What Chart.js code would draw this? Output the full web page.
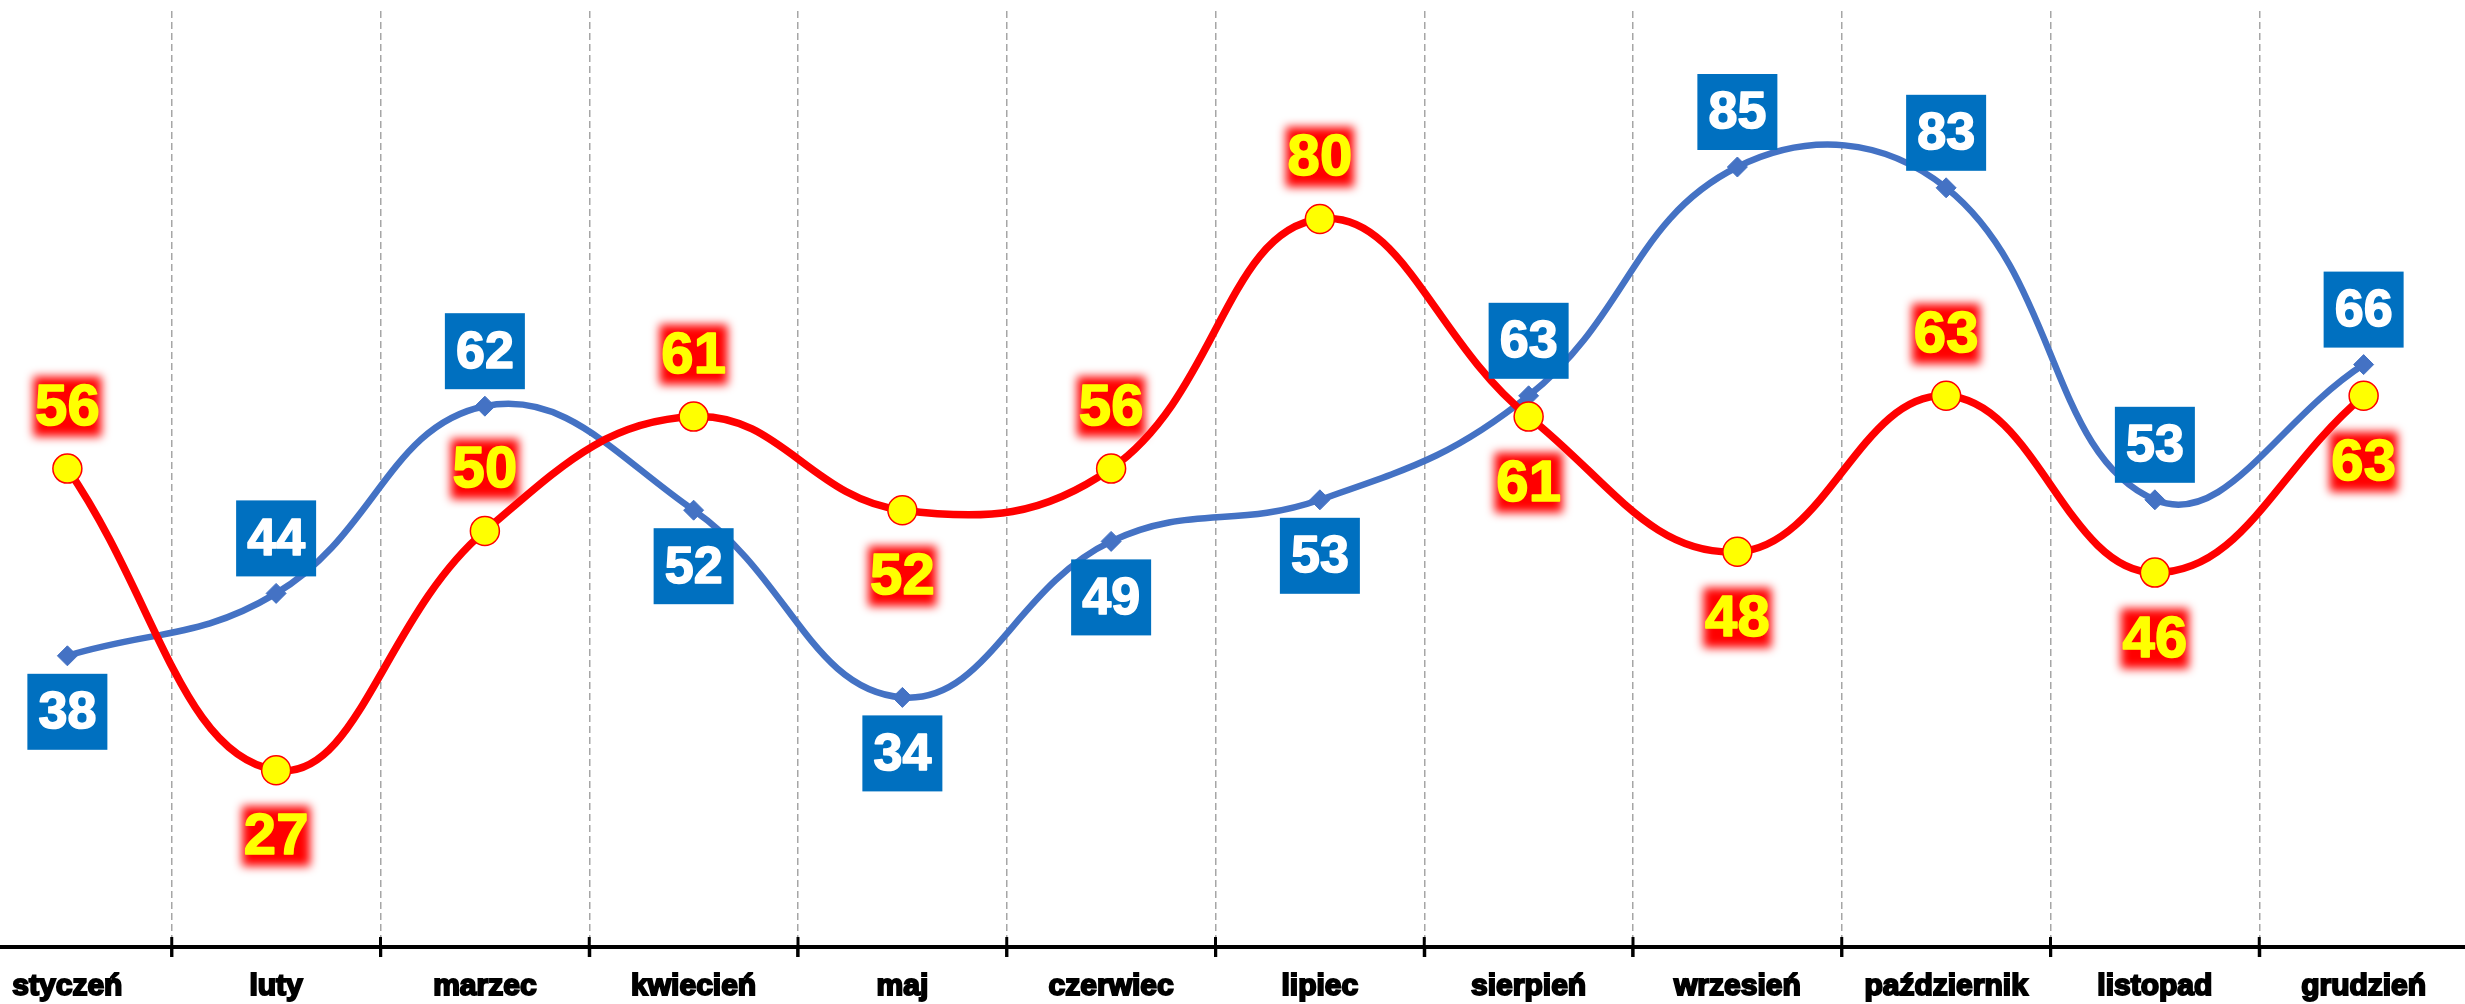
<!DOCTYPE html>
<html>
<head>
<meta charset="utf-8">
<script src="https://cdn.jsdelivr.net/npm/chart.js@4/dist/chart.umd.min.js"></script>
<style>
html,body{margin:0;padding:0;background:#fff;overflow:hidden;width:2465px;height:1004px;}
#wrap{position:absolute;left:-37px;top:0;width:2505px;height:1004px;}
</style>
</head>
<body>
<div id="wrap"><canvas id="c" width="2505" height="1004"></canvas></div>
<script>
const categories = ['styczeń','luty','marzec','kwiecień','maj','czerwiec','lipiec','sierpień','wrzesień','październik','listopad','grudzień'];
const redValues  = [56, 27, 50, 61, 52, 56, 80, 61, 48, 63, 46, 63];
const blueValues = [38, 44, 62, 52, 34, 49, 53, 63, 85, 83, 53, 66];
// label side: 1 = above point, -1 = below point
const redLabelSide  = [1, -1, 1, 1, -1, 1, 1, -1, -1, 1, -1, -1];
const blueLabelSide = [-1, 1, 1, -1, -1, -1, -1, 1, 1, 1, 1, 1];
const yMin = 10, yMax = 100;

const FONT = '"Liberation Sans", Arial, sans-serif';

const labelPlugin = {
  id: 'valueLabels',
  afterDatasetsDraw(chart) {
    const ctx = chart.ctx;
    const bMeta = chart.getDatasetMeta(1);
    bMeta.data.forEach((pt, i) => {
      const cy = pt.y + (blueLabelSide[i] > 0 ? -55 : 56);
      const cx = pt.x;
      ctx.save();
      ctx.fillStyle = '#0070C0';
      ctx.fillRect(cx - 40, cy - 38, 80, 76);
      ctx.fillStyle = '#ffffff';
      ctx.strokeStyle = '#ffffff';
      ctx.lineWidth = 1.6;
      ctx.lineJoin = 'round';
      ctx.font = 'bold 52px ' + FONT;
      ctx.textAlign = 'center';
      ctx.textBaseline = 'middle';
      ctx.fillText(String(blueValues[i]), cx, cy + 2);
      ctx.strokeText(String(blueValues[i]), cx, cy + 2);
      ctx.restore();
    });
    const rMeta = chart.getDatasetMeta(0);
    rMeta.data.forEach((pt, i) => {
      const cy = pt.y + (redLabelSide[i] > 0 ? -62 : 66);
      const cx = pt.x;
      const t = String(redValues[i]);
      ctx.save();
      ctx.font = 'bold 58px ' + FONT;
      ctx.textAlign = 'center';
      ctx.textBaseline = 'middle';
      ctx.filter = 'blur(5px)';
      ctx.fillStyle = '#ff0000';
      ctx.fillRect(cx - 34, cy - 30, 68, 60);
      ctx.filter = 'none';
      ctx.fillStyle = '#ffff00';
      ctx.strokeStyle = '#ffff00';
      ctx.lineWidth = 1.6;
      ctx.lineJoin = 'round';
      ctx.fillText(t, cx, cy + 2);
      ctx.strokeText(t, cx, cy + 2);
      ctx.restore();
    });
  },
  afterDraw(chart) {
    const ctx = chart.ctx;
    const x = chart.scales.x;
    const b = chart.chartArea.bottom;
    ctx.save();
    ctx.strokeStyle = '#000';
    ctx.lineWidth = 3;
    for (let i = 1; i < categories.length; i++) {
      const px = (x.getPixelForTick(i - 1) + x.getPixelForTick(i)) / 2;
      ctx.beginPath();
      ctx.moveTo(px, b - 10);
      ctx.lineTo(px, b + 10);
      ctx.stroke();
    }
    ctx.restore();
  }
};

new Chart(document.getElementById('c'), {
  type: 'line',
  data: {
    labels: categories,
    datasets: [
      {
        label: 'red',
        data: redValues,
        borderColor: '#ff0000',
        borderWidth: 7.5,
        pointStyle: 'circle',
        pointRadius: 14.5,
        pointBackgroundColor: '#ffff00',
        pointBorderColor: '#ff0000',
        pointBorderWidth: 1.5,
        tension: 0.42,
        fill: false,
        clip: false,
        order: 0
      },
      {
        label: 'blue',
        data: blueValues,
        borderColor: '#4472C4',
        borderWidth: 6.5,
        pointStyle: 'rectRot',
        pointRadius: 10,
        pointBackgroundColor: '#4472C4',
        pointBorderColor: '#4472C4',
        pointBorderWidth: 1,
        tension: 0.42,
        fill: false,
        clip: false,
        order: 1
      }
    ]
  },
  options: {
    responsive: false,
    animation: false,
    devicePixelRatio: 1,
    layout: { autoPadding: false, padding: { top: 11, left: 0, right: 0, bottom: 0 } },
    plugins: { legend: { display: false }, tooltip: { enabled: false } },
    scales: {
      x: {
        offset: true,
        grid: {
          offset: true,
          color: '#a6a6a6',
          lineWidth: 1.5,
          tickColor: '#000',
          tickWidth: 3,
          tickLength: 10,
          drawOnChartArea: true
        },
        border: { display: true, color: '#000', width: 4, dash: [7, 4] },
        ticks: {
          color: '#000',
          font: { family: FONT, size: 30, weight: 'bold' },
          textStrokeColor: '#000',
          textStrokeWidth: 2,
          padding: 12,
          maxRotation: 0,
          autoSkip: false
        },
        afterFit(scale) { scale.height = 57; scale.paddingLeft = 0; scale.paddingRight = 0; }
      },
      y: {
        display: false,
        min: yMin,
        max: yMax,
        afterFit(scale) { scale.width = 0; scale.paddingTop = 0; scale.paddingBottom = 0; }
      }
    }
  },
  plugins: [labelPlugin]
});
</script>
</body>
</html>
